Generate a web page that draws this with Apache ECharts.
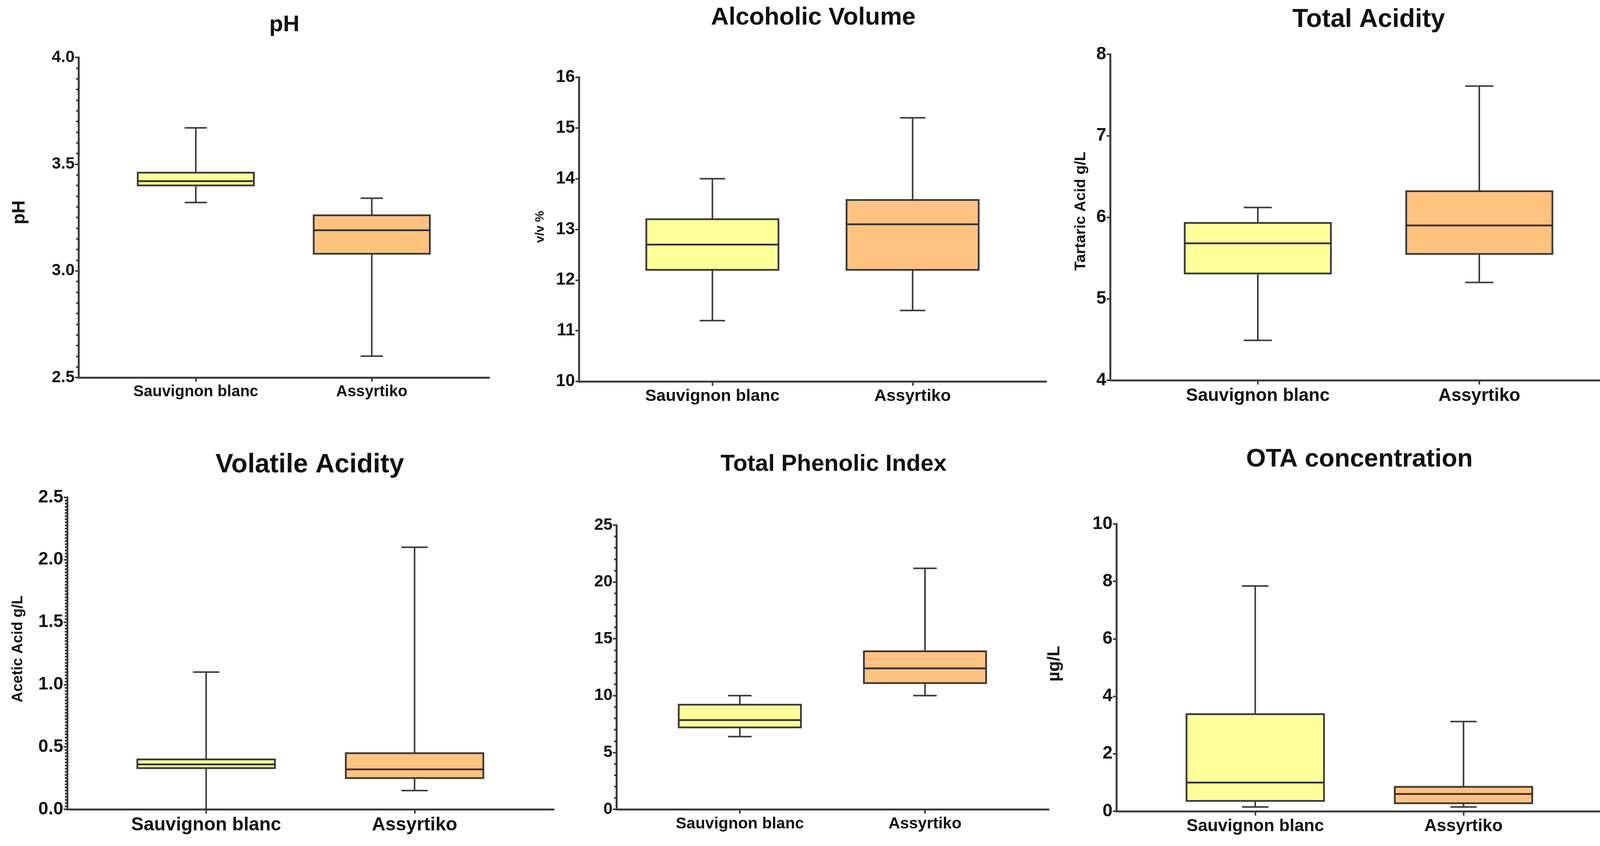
<!DOCTYPE html>
<html>
<head>
<meta charset="utf-8">
<script src="https://cdn.jsdelivr.net/npm/echarts@6/dist/echarts.min.js"></script>
<style>
html,body{margin:0;padding:0;background:#fff;}
#chart{width:4201px;height:2167px;}
</style>
</head>
<body>
<div id="chart"></div>
<script>
// ---- DATA ----
const categories = ['Sauvignon blanc', 'Assyrtiko'];
// each box: [min, Q1, median, Q3, max]
const phSB  = [3.32, 3.40, 3.42, 3.46, 3.67];
const phAS  = [2.60, 3.08, 3.19, 3.26, 3.34];
const alcSB = [11.2, 12.2, 12.7, 13.2, 14.0];
const alcAS = [11.4, 12.2, 13.1, 13.58, 15.2];
const taSB  = [4.49, 5.31, 5.68, 5.93, 6.12];
const taAS  = [5.20, 5.55, 5.90, 6.32, 7.61];
const vaSB  = [0.00, 0.33, 0.36, 0.40, 1.10];
const vaAS  = [0.15, 0.25, 0.32, 0.45, 2.10];
const tpiSB = [6.4, 7.2, 7.85, 9.2, 10.0];
const tpiAS = [10.0, 11.1, 12.4, 13.9, 21.2];
const otaSB = [0.15, 0.36, 1.00, 3.38, 7.84];
const otaAS = [0.15, 0.28, 0.60, 0.85, 3.12];
// y tick labels
const phTicks  = [2.5, 3.0, 3.5, 4.0];
const alcTicks = [10, 11, 12, 13, 14, 15, 16];
const taTicks  = [4, 5, 6, 7, 8];
const vaTicks  = [0.0, 0.5, 1.0, 1.5, 2.0, 2.5];
const tpiTicks = [0, 5, 10, 15, 20, 25];
const otaTicks = [0, 2, 4, 6, 8, 10];
// titles and axis names
const titles = ['pH', 'Alcoholic Volume', 'Total Acidity', 'Volatile Acidity', 'Total Phenolic Index', 'OTA concentration'];
const yNames = ['pH', 'v/v %', 'Tartaric Acid g/L', 'Acetic Acid g/L', '', 'µg/L'];

// ---- LAYOUT / STYLE ----
const FONT = '"Liberation Sans", Arial, sans-serif';
const AXIS_COLOR = '#3c3c3c';
const boxColors = ['#FFFF99', '#FFC281'];
const slots = categories.map((c, i) => 2 + 3 * i); // positions on a 0..7 base axis

const panels = [
  {sb: phSB,  as: phAS,  ticks: phTicks,  dec: 1, minor: 10, grid: [201, 147, 1051, 820],  title: [728, 64, 58],   yName: [50, 544, 46],   tickFs: 42, catFs: 40},
  {sb: alcSB, as: alcAS, ticks: alcTicks, dec: 0, minor: 0,  grid: [1482, 198, 1196, 779], title: [2082, 46, 63],  yName: [1383, 581, 32], tickFs: 44, catFs: 43},
  {sb: taSB,  as: taAS,  ticks: taTicks,  dec: 0, minor: 0,  grid: [2842, 139, 1323, 835], title: [3504, 51, 66],  yName: [2767, 541, 39], tickFs: 46, catFs: 46},
  {sb: vaSB,  as: vaAS,  ticks: vaTicks,  dec: 1, minor: 20, grid: [172, 1274, 1245, 799], title: [793, 1191, 68], yName: [47, 1662, 38],  tickFs: 46, catFs: 48},
  {sb: tpiSB, as: tpiAS, ticks: tpiTicks, dec: 0, minor: 5,  grid: [1578, 1345, 1106, 728],title: [2134, 1189, 60],yName: [0, 0, 0],      tickFs: 42, catFs: 41},
  {sb: otaSB, as: otaAS, ticks: otaTicks, dec: 0, minor: 0,  grid: [2858, 1342, 1244, 736],title: [3480, 1177, 65],yName: [2700, 1700, 44], tickFs: 46, catFs: 44}
];

function renderItem(params, api) {
  const x = api.value(0);
  const v = [1, 2, 3, 4, 5].map(d => api.value(d));
  const pMin = api.coord([x, v[0]]);
  const pQ1 = api.coord([x, v[1]]);
  const pMed = api.coord([x, v[2]]);
  const pQ3 = api.coord([x, v[3]]);
  const pMax = api.coord([x, v[4]]);
  const unit = api.coord([x + 1, v[2]])[0] - pMed[0];
  const half = unit * 0.99;
  const cap = unit * 0.19;
  const cx = pMed[0];
  const ws = {stroke: '#3a3a3a', lineWidth: 4};
  return {
    type: 'group',
    children: [
      {type: 'line', shape: {x1: cx, y1: pMax[1], x2: cx, y2: pQ3[1]}, style: ws},
      {type: 'line', shape: {x1: cx, y1: pQ1[1], x2: cx, y2: pMin[1]}, style: ws},
      {type: 'line', shape: {x1: cx - cap, y1: pMax[1], x2: cx + cap, y2: pMax[1]}, style: ws},
      {type: 'line', shape: {x1: cx - cap, y1: pMin[1], x2: cx + cap, y2: pMin[1]}, style: ws},
      {type: 'rect', shape: {x: cx - half, y: pQ3[1], width: 2 * half, height: pQ1[1] - pQ3[1]},
        style: {fill: boxColors[params.dataIndex], stroke: '#383838', lineWidth: 4.5}},
      {type: 'line', shape: {x1: cx - half, y1: pMed[1], x2: cx + half, y2: pMed[1]}, style: {stroke: '#2e2e2e', lineWidth: 4.5}}
    ]
  };
}

const graphics = [];
panels.forEach((p, i) => {
  graphics.push({
    type: 'text', x: p.title[0], y: p.title[1],
    style: {text: titles[i], font: 'bold ' + p.title[2] + 'px ' + FONT, fill: '#111', align: 'center', verticalAlign: 'middle'}
  });
  if (yNames[i]) {
    graphics.push({
      type: 'text', x: p.yName[0], y: p.yName[1], rotation: Math.PI / 2,
      style: {text: yNames[i], font: 'bold ' + p.yName[2] + 'px ' + FONT, fill: '#111', align: 'center', verticalAlign: 'middle'}
    });
  }
});

const option = {
  animation: false,
  backgroundColor: '#ffffff',
  graphic: graphics,
  grid: panels.map(p => ({left: p.grid[0], top: p.grid[1], width: p.grid[2], height: p.grid[3], containLabel: false})),
  xAxis: panels.map((p, i) => ({
    gridIndex: i, type: 'value', min: 0, max: 7,
    splitLine: {show: false},
    axisLine: {show: true, onZero: false, lineStyle: {color: AXIS_COLOR, width: 5}},
    axisTick: {show: true, customValues: slots, length: 11, lineStyle: {color: AXIS_COLOR, width: 4}},
    axisLabel: {
      customValues: slots, margin: 17,
      formatter: v => categories[slots.indexOf(v)] || '',
      fontSize: p.catFs, fontWeight: 'bold', fontFamily: FONT, color: '#111'
    }
  })),
  yAxis: panels.map((p, i) => ({
    gridIndex: i, type: 'value',
    min: p.ticks[0], max: p.ticks[p.ticks.length - 1], interval: p.ticks[1] - p.ticks[0],
    splitLine: {show: false},
    axisLine: {show: true, onZero: false, lineStyle: {color: AXIS_COLOR, width: 5}},
    axisTick: {show: true, length: 9, lineStyle: {color: AXIS_COLOR, width: 4}},
    minorTick: {show: p.minor > 0, splitNumber: p.minor || 5, length: 6, lineStyle: {color: '#333', width: 4}},
    axisLabel: {
      margin: 10,
      formatter: v => Number(v).toFixed(p.dec),
      fontSize: p.tickFs, fontWeight: 'bold', fontFamily: FONT, color: '#111'
    }
  })),
  series: panels.map((p, i) => ({
    type: 'custom', xAxisIndex: i, yAxisIndex: i,
    renderItem: renderItem,
    encode: {x: 0, y: [1, 2, 3, 4, 5]},
    data: [[slots[0]].concat(p.sb), [slots[1]].concat(p.as)]
  }))
};

const chart = echarts.init(document.getElementById('chart'));
chart.setOption(option);
</script>
</body>
</html>
